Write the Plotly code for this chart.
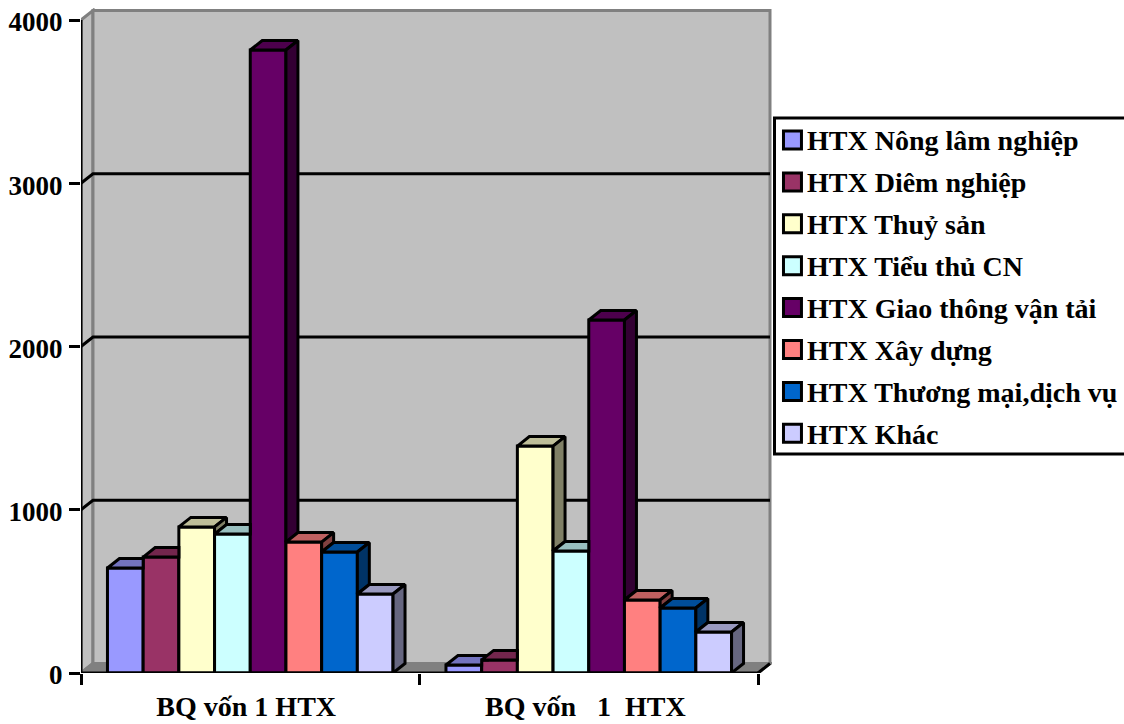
import plotly.graph_objects as go

categories = ["BQ vốn 1 HTX", "BQ vốn\u00a0\u00a0 1\u00a0 HTX"]
series_names = ["HTX Nông lâm nghiệp", "HTX Diêm nghiệp", "HTX Thuỷ sản", "HTX Tiểu thủ CN",
                "HTX Giao thông vận tải", "HTX Xây dựng", "HTX Thương mại,dịch vụ", "HTX Khác"]
von_nhom_1 = [643, 710, 895, 851, 3816, 802, 741, 484]
von_nhom_2 = [49, 80, 1390, 747, 2162, 447, 398, 251]
y_ticks = [0, 1000, 2000, 3000, 4000]

front_colors = ["#9999FF", "#993366", "#FFFFCC", "#CCFFFF", "#660066", "#FF8080", "#0066CC", "#CCCCFF"]
top_colors = ["#7373BF", "#73264D", "#BFBF99", "#99BFBF", "#4D004D", "#BF6060", "#004D99", "#9999BF"]
side_colors = ["#4D4D80", "#4D1A33", "#808066", "#668080", "#330033", "#804040", "#003366", "#666680"]

# Pixel geometry of the plot frame (page pixels; the page body margin is removed below)
L, R, T, B = 80.5, 772.5, 8, 673
PX_CAT = 339.0
PX_UNIT = 653.0 / 4000
DX = 12.0 / PX_CAT        # depth offset in x-axis units
DY = 9.5 / PX_UNIT        # depth offset in y-axis units
X0 = -0.5
X1 = 1.5
YMAX = (B - T) / PX_UNIT
XMAX = X0 + (R - L) / PX_CAT
GROUP = 286.0 / PX_CAT
W = GROUP / 8
LW = 3
FONT = "Liberation Serif"
FS = 28
BLACK = "#000000"
GREY = "#808080"
WALL = "#C0C0C0"

fig = go.Figure()

# Front faces
for k, name in enumerate(series_names):
    fig.add_trace(go.Bar(x=[0, 1], y=[von_nhom_1[k], von_nhom_2[k]], name=name,
                         marker=dict(color=front_colors[k], line=dict(color=BLACK, width=LW)),
                         showlegend=False))


def poly(xs, ys, color):
    fig.add_trace(go.Scatter(x=xs + xs[:1], y=ys + ys[:1], mode="lines", fill="toself",
                             fillcolor=color, line=dict(color=BLACK, width=LW),
                             hoverinfo="skip", showlegend=False))


# Top and side faces, left to right, trimmed where the next bar's front hides them
for g, values in enumerate([von_nhom_1, von_nhom_2]):
    for k, v in enumerate(values):
        l = g - GROUP / 2 + k * W
        r = l + W
        nxt = values[k + 1] if k < 7 else 0
        if nxt >= v + DY:
            poly([l, r, r, l + DX], [v, v, v + DY, v + DY], top_colors[k])
        elif nxt > v:
            t = (nxt - v) / DY
            poly([l, r, r, r + t * DX, r + DX, l + DX],
                 [v, v, nxt, nxt, v + DY, v + DY], top_colors[k])
        else:
            poly([l, r, r + DX, l + DX], [v, v, v + DY, v + DY], top_colors[k])
        if nxt < v:
            poly([r, r + DX, r + DX, r], [v, v + DY, nxt + DY, nxt], side_colors[k])


def path(pts):
    return "M" + " L".join(f"{x},{y}" for x, y in pts) + " Z"


shapes = []
xb = X0 + DX
xe = X1 + DX
top = 4000 + DY
# Walls and floor
shapes.append(dict(type="path", path=path([(X0, 0), (xb, DY), (xb, top), (X0, 4000)]),
                   fillcolor=WALL, line=dict(color=GREY, width=LW), layer="below"))
shapes.append(dict(type="path", path=path([(xb, DY), (xe, DY), (xe, top), (xb, top)]),
                   fillcolor=WALL, line=dict(color=GREY, width=LW), layer="below"))
shapes.append(dict(type="path", path=path([(X0, 0), (xb, DY), (xe, DY), (X1, 0)]),
                   fillcolor=GREY, line=dict(color=GREY, width=LW), layer="below"))
# Gridlines with their diagonal run across the side wall
for v in y_ticks[1:-1]:
    shapes.append(dict(type="path", path=f"M{X0},{v} L{xb},{v + DY} L{xe},{v + DY}",
                       line=dict(color=BLACK, width=LW), layer="below"))
shapes.append(dict(type="line", x0=X1, y0=0, x1=xe, y1=DY, line=dict(color=BLACK, width=LW), layer="below"))
# Axis lines
shapes.append(dict(type="line", x0=X0, y0=0, x1=X0, y1=4000, line=dict(color=BLACK, width=LW), layer="below"))
shapes.append(dict(type="line", x0=X0, y0=0, x1=X1, y1=0, line=dict(color=BLACK, width=LW), layer="above"))


def px(v):
    return (v - L) / (R - L)


def py(v):
    return (B - v) / (B - T)


# Legend box
shapes.append(dict(type="rect", xref="paper", yref="paper", x0=px(775), x1=px(1140), y0=py(118), y1=py(454),
                   fillcolor="#FFFFFF", line=dict(color=BLACK, width=LW)))
annotations = []
for k, name in enumerate(series_names):
    cy = 140 + 41.9 * k
    shapes.append(dict(type="rect", xref="paper", yref="paper", x0=px(784), x1=px(802),
                       y0=py(cy - 9), y1=py(cy + 9), fillcolor=front_colors[k],
                       line=dict(color=BLACK, width=LW)))
    annotations.append(dict(xref="paper", yref="paper", x=px(805.5), y=py(cy + 1), text=f"<b>{name}</b>",
                            showarrow=False, xanchor="left", yanchor="middle",
                            font=dict(family=FONT, size=FS, color=BLACK)))

fig.update_layout(
    width=1124, height=724, autosize=False,
    margin=dict(l=L, r=1124 - R, t=T, b=724 - B, pad=0),
    paper_bgcolor="#FFFFFF", plot_bgcolor="#FFFFFF",
    barmode="group", bargap=1 - GROUP, bargroupgap=0,
    showlegend=False, shapes=shapes, annotations=annotations,
    font=dict(family=FONT, color=BLACK),
    xaxis=dict(range=[X0, XMAX], showgrid=False, zeroline=False, showline=False, automargin=False,
               tickmode="array", tickvals=[-0.012, 0.99],
               ticktext=[f"<b>{c}</b>" for c in categories], ticks="", ticklabelstandoff=14,
               tickfont=dict(family=FONT, size=FS, color=BLACK),
               minor=dict(tickmode="array", tickvals=[-0.5, 0.5, 1.5], ticks="outside",
                          ticklen=11, tickwidth=LW, tickcolor=BLACK, showgrid=False)),
    yaxis=dict(range=[0, YMAX], showgrid=False, zeroline=False, showline=False, automargin=False,
               tickmode="array", tickvals=y_ticks, ticklabeloverflow="allow",
               ticklabelstandoff=1, ticklabelshift=2,
               ticktext=[f"<b>{v}</b>" for v in y_ticks], ticks="outside", ticklen=11,
               tickwidth=LW, tickcolor=BLACK, tickfont=dict(family=FONT, size=27, color=BLACK)),
)

fig.write_html("out.html", config={"displayModeBar": False},
               post_script="document.body.style.margin='0';document.documentElement.style.overflow='hidden';")
